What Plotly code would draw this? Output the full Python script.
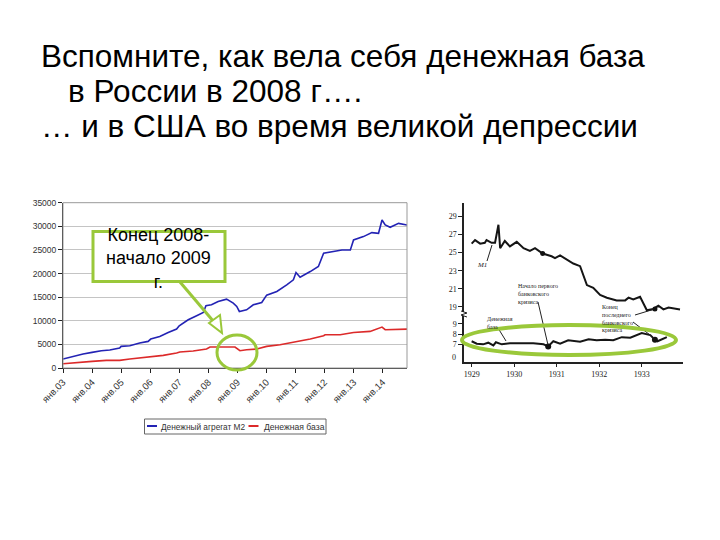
import plotly.graph_objects as go

W, H = 720, 540
def px(x): return x / W
def py(y): return 1 - y / H

# ---------------- Data: Russia (billion rubles) ----------------
ru_m2_t = [2003.00, 2003.34, 2003.69, 2004.00, 2004.32, 2004.61, 2004.95, 2005.00, 2005.30, 2005.64,
           2005.93, 2006.02, 2006.33, 2006.62, 2006.91, 2007.00, 2007.31, 2007.60, 2007.83, 2007.92,
           2008.11, 2008.34, 2008.63, 2008.86, 2008.98, 2009.07, 2009.32, 2009.55, 2009.84, 2010.01,
           2010.36, 2010.70, 2010.93, 2011.02, 2011.16, 2011.51, 2011.79, 2011.97, 2012.25, 2012.60,
           2012.89, 2013.00, 2013.34, 2013.63, 2013.86, 2013.98, 2014.09, 2014.26, 2014.55, 2014.84]
ru_m2 = [1900, 2460, 2960, 3300, 3660, 3800, 4220, 4580, 4720, 5280,
         5630, 6130, 6690, 7530, 8240, 8940, 10210, 11060, 11760, 13170,
         13380, 14080, 14580, 13730, 13030, 11970, 12320, 13380, 13870, 15420,
         16200, 17600, 18660, 20210, 19220, 20420, 21480, 24300, 24650, 25000,
         25000, 27110, 27820, 28660, 28520, 31340, 30280, 29790, 30630, 30280]

ru_base_t = [2003.00, 2003.46, 2004.00, 2004.49, 2004.95, 2005.30, 2005.82, 2006.02, 2006.45, 2006.91,
             2007.02, 2007.48, 2007.94, 2008.06, 2008.40, 2008.75, 2008.92, 2009.09, 2009.32, 2009.67,
             2010.01, 2010.47, 2010.93, 2011.05, 2011.51, 2011.97, 2012.02, 2012.54, 2013.00, 2013.57,
             2013.98, 2014.09, 2014.49, 2014.84]
ru_base = [915, 1200, 1410, 1620, 1620, 1900, 2250, 2460, 2680, 3170,
           3380, 3590, 4010, 4440, 4440, 4580, 4440, 3660, 3870, 4010,
           4580, 4930, 5420, 5630, 6130, 6830, 7040, 7040, 7530, 7750,
           8660, 8100, 8100, 8240]

ru_tick_years = list(range(2003, 2015))
ru_tick_labels = ["янв.%02d" % (y % 100) for y in ru_tick_years]
ru_y_ticks = [0, 5000, 10000, 15000, 20000, 25000, 30000, 35000]
ru_y_labels = [str(v) for v in ru_y_ticks]
ru_series_names = ["Денежный агрегат M2", "Денежная база"]

# ---------------- Data: USA 1929-1933 (billion $) ----------------
us_m1_t = [1929.00, 1929.08, 1929.20, 1929.31, 1929.35, 1929.47, 1929.55, 1929.63, 1929.67, 1929.78,
           1929.90, 1930.06, 1930.22, 1930.37, 1930.49, 1930.67, 1930.88, 1930.96, 1931.08, 1931.24,
           1931.39, 1931.55, 1931.71, 1931.86, 1932.02, 1932.18, 1932.41, 1932.61, 1932.69, 1932.80,
           1932.96, 1933.12, 1933.27, 1933.39, 1933.51, 1933.63, 1933.90]
us_m1 = [26.0, 26.4, 26.0, 26.1, 26.4, 26.1, 26.1, 28.1, 25.5, 26.3,
         25.7, 26.2, 25.5, 25.2, 25.5, 24.9, 24.6, 24.4, 24.7, 24.2,
         23.8, 23.5, 21.4, 21.1, 20.3, 20.0, 19.7, 19.7, 20.0, 19.8,
         20.1, 18.6, 18.75, 19.1, 18.7, 18.9, 18.7]

us_base_t = [1929.00, 1929.12, 1929.27, 1929.39, 1929.51, 1929.57, 1929.71, 1929.90, 1930.14, 1930.45,
             1930.69, 1930.80, 1930.92, 1931.08, 1931.27, 1931.55, 1931.75, 1931.94, 1932.14, 1932.33,
             1932.53, 1932.73, 1933.00, 1933.20, 1933.31, 1933.37, 1933.59]
us_base = [7.3, 7.06, 7.0, 7.16, 6.9, 7.2, 7.0, 7.1, 7.1, 7.1,
           7.0, 6.8, 7.3, 7.06, 7.4, 7.26, 7.5, 7.4, 7.45, 7.4,
           7.7, 7.65, 8.1, 7.9, 7.45, 7.3, 7.7]

us_dots_m1 = ([1930.67, 1933.31], [24.9, 18.75])
us_dots_base = ([1930.80, 1933.31], [6.8, 7.45])

us_years = [1929, 1930, 1931, 1932, 1933]
us_upper_ticks = [19, 21, 23, 25, 27, 29]
us_lower_ticks = [7, 8, 9]

BLUE = "#2323b4"
RED = "#dc2a2a"
GREEN = "#9ac83a"
SERIF = "Liberation Serif, DejaVu Serif, serif"
SANS = "Liberation Sans, Arial, sans-serif"

fig = go.Figure()
fig.add_trace(go.Scatter(x=ru_m2_t, y=ru_m2, mode="lines", name=ru_series_names[0], showlegend=False,
                         line=dict(color=BLUE, width=1.6), xaxis="x", yaxis="y"))
fig.add_trace(go.Scatter(x=ru_base_t, y=ru_base, mode="lines", name=ru_series_names[1], showlegend=False,
                         line=dict(color=RED, width=1.6), xaxis="x", yaxis="y"))
fig.add_trace(go.Scatter(x=us_m1_t, y=us_m1, mode="lines", showlegend=False, name="M1",
                         line=dict(color="#151515", width=2), xaxis="x2", yaxis="y3"))
fig.add_trace(go.Scatter(x=us_base_t, y=us_base, mode="lines", showlegend=False, name="Денежная база",
                         line=dict(color="#151515", width=2), xaxis="x2", yaxis="y4"))
fig.add_trace(go.Scatter(x=us_dots_m1[0], y=us_dots_m1[1], mode="markers", showlegend=False,
                         marker=dict(color="#111", size=5), xaxis="x2", yaxis="y3"))
fig.add_trace(go.Scatter(x=us_dots_base[0], y=us_dots_base[1], mode="markers", showlegend=False,
                         marker=dict(color="#111", size=6), xaxis="x2", yaxis="y4"))

tickfont_ru_x = dict(family=SANS, size=9.5, color="#333")
tickfont_ru_y = dict(family=SANS, size=8.5, color="#333")
tickfont_us = dict(family=SERIF, size=8, color="#222")

common = dict(automargin=False, zeroline=False, ticks="outside", ticklen=4, tickcolor="#222", showline=True,
              linecolor="#222")

fig.update_layout(
    width=W, height=H, margin=dict(l=0, r=0, t=0, b=0, pad=0, autoexpand=False),
    paper_bgcolor="white", plot_bgcolor="white",
    showlegend=False,
    xaxis=dict(domain=[px(63), px(407)], range=[2003, 2014.84], tickvals=ru_tick_years,
               ticktext=ru_tick_labels, tickangle=-45, tickfont=tickfont_ru_x, showgrid=False,
               linewidth=1, anchor="y", **common),
    yaxis=dict(domain=[py(368), py(202.7)], range=[0, 35000], tickvals=ru_y_ticks, ticktext=ru_y_labels,
               tickfont=tickfont_ru_y, showgrid=True, gridcolor="#c4c4c4", gridwidth=1,
               linewidth=1, anchor="x", **common),
    xaxis2=dict(domain=[px(464), px(683)], range=[1928.82, 1933.97], tickvals=us_years,
                tickfont=tickfont_us, showgrid=False, linewidth=1.5, anchor="y4", **common),
    yaxis3=dict(domain=[py(312), py(203)], range=[18.41, 30.52], tickvals=us_upper_ticks,
                tickfont=tickfont_us, showgrid=False, linewidth=1.5, anchor="x2", **common),
    yaxis4=dict(domain=[py(361.7), py(316)], range=[5.31, 9.76], tickvals=us_lower_ticks,
                tickfont=tickfont_us, showgrid=False, linewidth=1.5, anchor="x2", **common),
)

ann = []
shapes = []
# Title text
TFS = 31.5
for txt, x, y in [("Вспомните, как вела себя денежная база", 39, 56),
                  ("в России в 2008 г….", 66, 91),
                  ("… и в США во время великой депрессии", 39, 126)]:
    ann.append(dict(text=txt, x=px(x), y=py(y), xanchor="left", yanchor="middle", align="left",
                    width=670 - x, showarrow=False, font=dict(family=SANS, size=TFS, color="black"),
                    xref="paper", yref="paper"))

# Left plot frame (right & top border)
shapes.append(dict(type="rect", xref="paper", yref="paper", x0=px(63), x1=px(407), y0=py(368), y1=py(202.7),
                   line=dict(color="#999", width=1)))

# Manual legend for the left chart
shapes.append(dict(type="rect", xref="paper", yref="paper", x0=px(144.5), x1=px(326), y0=py(434), y1=py(419),
                   line=dict(color="#666", width=1), fillcolor="white"))
shapes.append(dict(type="line", xref="paper", yref="paper", x0=px(147), x1=px(157), y0=py(426), y1=py(426),
                   line=dict(color=BLUE, width=2)))
shapes.append(dict(type="line", xref="paper", yref="paper", x0=px(248.5), x1=px(258.5), y0=py(426), y1=py(426),
                   line=dict(color=RED, width=2)))
ann.append(dict(text=ru_series_names[0], x=px(158.5), y=py(426.5), xanchor="left", yanchor="middle",
                showarrow=False, font=dict(family=SANS, size=8.3, color="#333"), xref="paper", yref="paper"))
ann.append(dict(text=ru_series_names[1], x=px(261.5), y=py(426.5), xanchor="left", yanchor="middle",
                showarrow=False, font=dict(family=SANS, size=8.6, color="#333"), xref="paper", yref="paper"))

# Callout box
shapes.append(dict(type="rect", xref="paper", yref="paper", x0=px(93), x1=px(225), y0=py(281.5), y1=py(231.5),
                   line=dict(color=GREEN, width=3), fillcolor="white", layer="above"))
ann.append(dict(text="Конец 2008-<br>начало 2009<br>г.", x=px(158), y=py(258), xanchor="center",
                yanchor="middle", showarrow=False, align="center",
                font=dict(family=SANS, size=18, color="black"), xref="paper", yref="paper"))
# Arrow
shapes.append(dict(type="line", xref="paper", yref="paper", x0=px(180), y0=py(282), x1=px(214), y1=py(322),
                   line=dict(color=GREEN, width=3)))
shapes.append(dict(type="path", xref="paper", yref="paper",
                   path="M %f %f L %f %f L %f %f Z" % (px(209), py(323), px(220), py(315), px(222), py(333)),
                   line=dict(color=GREEN, width=2), fillcolor="white"))
# Circle
shapes.append(dict(type="circle", xref="paper", yref="paper", x0=px(217), x1=px(257), y0=py(370), y1=py(335),
                   line=dict(color=GREEN, width=3)))

# Right chart annotations
small = dict(family=SERIF, size=6, color="#222")
ann.append(dict(text="<i>M1</i>", x=px(482), y=py(265), xanchor="center", yanchor="middle", showarrow=False,
                font=dict(family=SERIF, size=7, color="#222"), xref="paper", yref="paper"))
shapes.append(dict(type="line", xref="paper", yref="paper", x0=px(487), y0=py(261), x1=px(492), y1=py(245),
                   line=dict(color="#222", width=1)))
ann.append(dict(text="Начало первого<br>банковского<br>кризиса", x=px(516), y=py(294), xanchor="left",
                yanchor="middle", showarrow=False, align="left", font=small, xref="paper", yref="paper"))
shapes.append(dict(type="line", xref="paper", yref="paper", x0=px(538), y0=py(302), x1=px(548), y1=py(345),
                   line=dict(color="#222", width=1)))
ann.append(dict(text="Конец<br>последнего<br>банковского<br>кризиса", x=px(600), y=py(318), xanchor="left",
                yanchor="middle", showarrow=False, align="left", font=small, xref="paper", yref="paper"))
shapes.append(dict(type="line", xref="paper", yref="paper", x0=px(635), y0=py(315), x1=px(653), y1=py(309.5),
                   line=dict(color="#222", width=1)))
shapes.append(dict(type="line", xref="paper", yref="paper", x0=px(633), y0=py(322), x1=px(654), y1=py(338),
                   line=dict(color="#222", width=1)))
ann.append(dict(text="Денежная<br>база", x=px(485), y=py(323), xanchor="left",
                yanchor="middle", showarrow=False, align="left", font=small, xref="paper", yref="paper"))
shapes.append(dict(type="line", xref="paper", yref="paper", x0=px(498), y0=py(328), x1=px(506), y1=py(341),
                   line=dict(color="#222", width=1)))
ann.append(dict(text="0", x=px(458), y=py(357), xanchor="right", yanchor="middle", showarrow=False,
                font=tickfont_us, xref="paper", yref="paper"))
# axis break squiggle
shapes.append(dict(type="path", xref="paper", yref="paper",
                   path="M %f %f L %f %f L %f %f L %f %f" % (px(461), py(311), px(467), py(313), px(461), py(315), px(467), py(317)),
                   line=dict(color="#222", width=1)))
# Green ellipse on right chart
shapes.append(dict(type="circle", xref="paper", yref="paper", x0=px(462), x1=px(676), y0=py(355), y1=py(325),
                   line=dict(color=GREEN, width=4)))

fig.update_layout(annotations=ann, shapes=shapes)
fig.write_html("out.html")
